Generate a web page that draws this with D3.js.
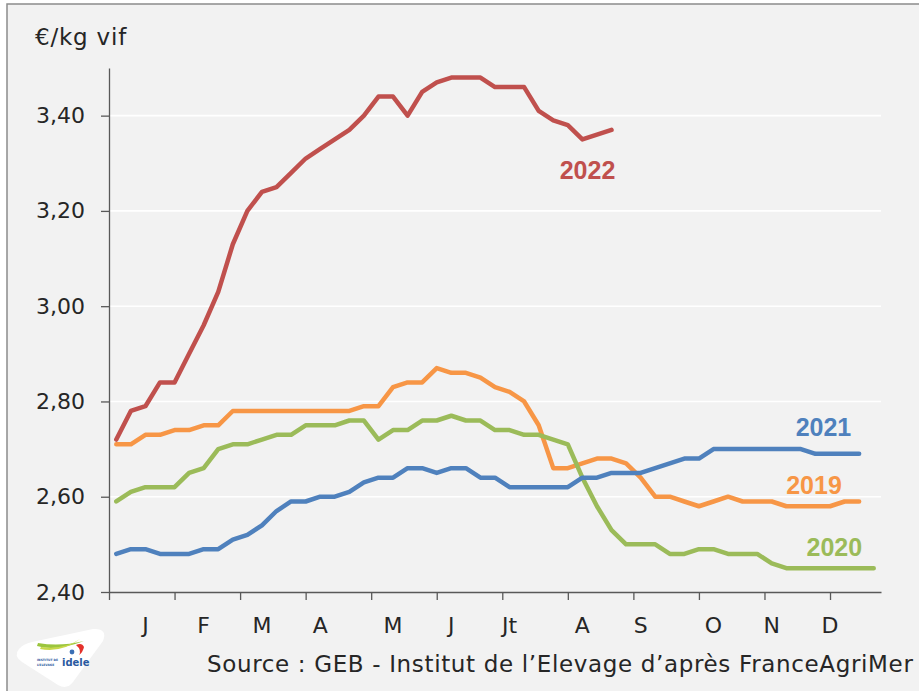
<!DOCTYPE html>
<html>
<head>
<meta charset="utf-8">
<script src="https://cdn.jsdelivr.net/npm/d3@7"></script>
<style>
  body { margin: 0; background: #fff; }
  svg { display: block; }
</style>
</head>
<body>
<script>
// weekly prices, €/kg vif (week 1 .. n)
const prix2019 = [2.71,2.71,2.73,2.73,2.74,2.74,2.75,2.75,2.78,2.78,2.78,2.78,2.78,2.78,2.78,2.78,2.78,2.79,2.79,2.83,
  2.84,2.84,2.87,2.86,2.86,2.85,2.83,2.82,2.80,2.75,2.66,2.66,2.67,2.68,2.68,2.67,2.64,2.60,2.60,2.59,
  2.58,2.59,2.60,2.59,2.59,2.59,2.58,2.58,2.58,2.58,2.59,2.59];
const prix2020 = [2.59,2.61,2.62,2.62,2.62,2.65,2.66,2.70,2.71,2.71,2.72,2.73,2.73,2.75,2.75,2.75,2.76,2.76,2.72,2.74,
  2.74,2.76,2.76,2.77,2.76,2.76,2.74,2.74,2.73,2.73,2.72,2.71,2.64,2.58,2.53,2.50,2.50,2.50,2.48,2.48,
  2.49,2.49,2.48,2.48,2.48,2.46,2.45,2.45,2.45,2.45,2.45,2.45,2.45];
const prix2021 = [2.48,2.49,2.49,2.48,2.48,2.48,2.49,2.49,2.51,2.52,2.54,2.57,2.59,2.59,2.60,2.60,2.61,2.63,2.64,2.64,
  2.66,2.66,2.65,2.66,2.66,2.64,2.64,2.62,2.62,2.62,2.62,2.62,2.64,2.64,2.65,2.65,2.65,2.66,2.67,2.68,
  2.68,2.70,2.70,2.70,2.70,2.70,2.70,2.70,2.69,2.69,2.69,2.69];
const prix2022 = [2.72,2.78,2.79,2.84,2.84,2.90,2.96,3.03,3.13,3.20,3.24,3.25,3.28,3.31,3.33,3.35,3.37,3.40,3.44,3.44,
  3.40,3.45,3.47,3.48,3.48,3.48,3.46,3.46,3.46,3.41,3.39,3.38,3.35,3.36,3.37];

const years = ["2019", "2020", "2021", "2022"];
const months = ["J","F","M","A","M","J","Jt","A","S","O","N","D"];
const monthWeeks = [3, 7, 11, 15, 20, 24, 28, 33, 37, 42, 46, 50];
const yTicks = [2.40, 2.60, 2.80, 3.00, 3.20, 3.40];
// where each year label sits (week, price)
const labelWeek = [48.9, 50.3, 49.55, 33.35];
const labelPrix = [2.605, 2.475, 2.727, 3.266];

const series = [prix2019, prix2020, prix2021, prix2022];
const colors = ["#f79646", "#9bbb59", "#4f81bd", "#c0504d"];

const W = 919, H = 691;
const plot = { left: 109, right: 881, top: 68, bottom: 592 };

const svg = d3.select("body").append("svg")
  .attr("width", W).attr("height", H);

// background + frame
svg.append("rect").attr("x", 7).attr("y", 4)
  .attr("width", W + 10).attr("height", H + 10)
  .attr("fill", "#f2f2f2").attr("stroke", "#8c8c8c").attr("stroke-width", 1.5);

const x = d3.scaleLinear().domain([0.5, 53.5]).range([plot.left, plot.right]);
const y = d3.scaleLinear().domain([2.40, 3.50]).range([plot.bottom, plot.top]);

// gridlines
svg.append("g").selectAll("line")
  .data(yTicks.slice(1))
  .join("line")
    .attr("x1", plot.left).attr("x2", plot.right)
    .attr("y1", d => y(d)).attr("y2", d => y(d))
    .attr("stroke", "#fff").attr("stroke-width", 1.6);

const fmt = d => d3.format(".2f")(d).replace(".", ",");

// y axis
const yAxis = svg.append("g")
  .attr("transform", `translate(${plot.left},0)`)
  .call(d3.axisLeft(y).tickValues(yTicks).tickFormat(fmt).tickSize(8).tickSizeOuter(0));
yAxis.select(".domain").attr("stroke", "#595959").attr("stroke-width", 1.3);
yAxis.selectAll(".tick line").attr("stroke", "#595959").attr("stroke-width", 1.3);
yAxis.selectAll(".tick text")
  .attr("x", -24)
  .attr("fill", "#262626")
  .style("font", "22px 'DejaVu Sans'");

// x axis
const xAxis = svg.append("g")
  .attr("transform", `translate(0,${plot.bottom})`)
  .call(d3.axisBottom(x).tickValues(d3.range(0.5, 51, 4.5)).tickFormat("").tickSize(8).tickSizeOuter(0));
xAxis.select(".domain").attr("stroke", "#595959").attr("stroke-width", 1.3);
xAxis.selectAll(".tick line").attr("stroke", "#595959").attr("stroke-width", 1.3);

svg.append("g").selectAll("text")
  .data(months)
  .join("text")
    .attr("x", (d, i) => x(monthWeeks[i]))
    .attr("y", plot.bottom + 41)
    .attr("text-anchor", "middle")
    .attr("fill", "#262626")
    .style("font", "22px 'DejaVu Sans'")
    .text(d => d);

// unit
svg.append("text")
  .attr("x", 35).attr("y", 45)
  .attr("fill", "#262626")
  .style("font", "23px 'DejaVu Sans'")
  .style("letter-spacing", "0.8px")
  .text("€/kg vif");

// lines
const line = d3.line()
  .x((d, i) => x(i + 1))
  .y(d => y(d));

svg.append("g").selectAll("path")
  .data(series)
  .join("path")
    .attr("d", line)
    .attr("fill", "none")
    .attr("stroke", (d, i) => colors[i])
    .attr("stroke-width", 4.5)
    .attr("stroke-linejoin", "round")
    .attr("stroke-linecap", "round");

// year labels
svg.append("g").selectAll("text")
  .data(years)
  .join("text")
    .attr("x", (d, i) => x(labelWeek[i]))
    .attr("y", (d, i) => y(labelPrix[i]))
    .attr("text-anchor", "middle")
    .attr("fill", (d, i) => colors[i])
    .style("font", "bold 25px 'Liberation Sans'")
    .text(d => d);

// source
svg.append("text")
  .attr("x", 207).attr("y", 672)
  .attr("fill", "#262626")
  .style("font", "23px 'DejaVu Sans'")
  .style("letter-spacing", "0.65px")
  .text("Source : GEB - Institut de l\u2019Elevage d\u2019apr\u00e8s FranceAgriMer");

// idele logo
const logo = svg.append("g");
logo.append("path")
  .attr("d", "M19,649 Q13,656 22,662 L58,685 Q67,690 73,682 L103,641 Q108,628 93,629 L32,642 Q23,644 19,649 Z")
  .attr("fill", "#fff");
logo.append("path")
  .attr("d", "M37,646 Q55,652 84,641 Q60,647 38,643 Z")
  .attr("fill", "#9bc53d");
logo.append("path")
  .attr("d", "M40,649 Q62,653 80,639 Q64,650 41,647 Z")
  .attr("fill", "#c8d84a");
logo.append("path")
  .attr("d", "M76,645 Q82,642 84,647 Q83,652 79,655 Q82,650 76,645 Z")
  .attr("fill", "#e4322b");
logo.append("circle").attr("cx", 72).attr("cy", 652).attr("r", 2.4).attr("fill", "#3a6fb5");
logo.append("text")
  .attr("x", 37).attr("y", 661)
  .attr("fill", "#2a5aa0")
  .style("font", "bold 3px 'DejaVu Sans'")
  .text("INSTITUT DE");
logo.append("text")
  .attr("x", 37).attr("y", 665.5)
  .attr("fill", "#2a5aa0")
  .style("font", "bold 3px 'DejaVu Sans'")
  .text("L\u2019ELEVAGE");
logo.append("text")
  .attr("x", 62).attr("y", 666)
  .attr("fill", "#2a5aa0")
  .style("font", "bold 10px 'DejaVu Sans'")
  .text("idele");
</script>
</body>
</html>
